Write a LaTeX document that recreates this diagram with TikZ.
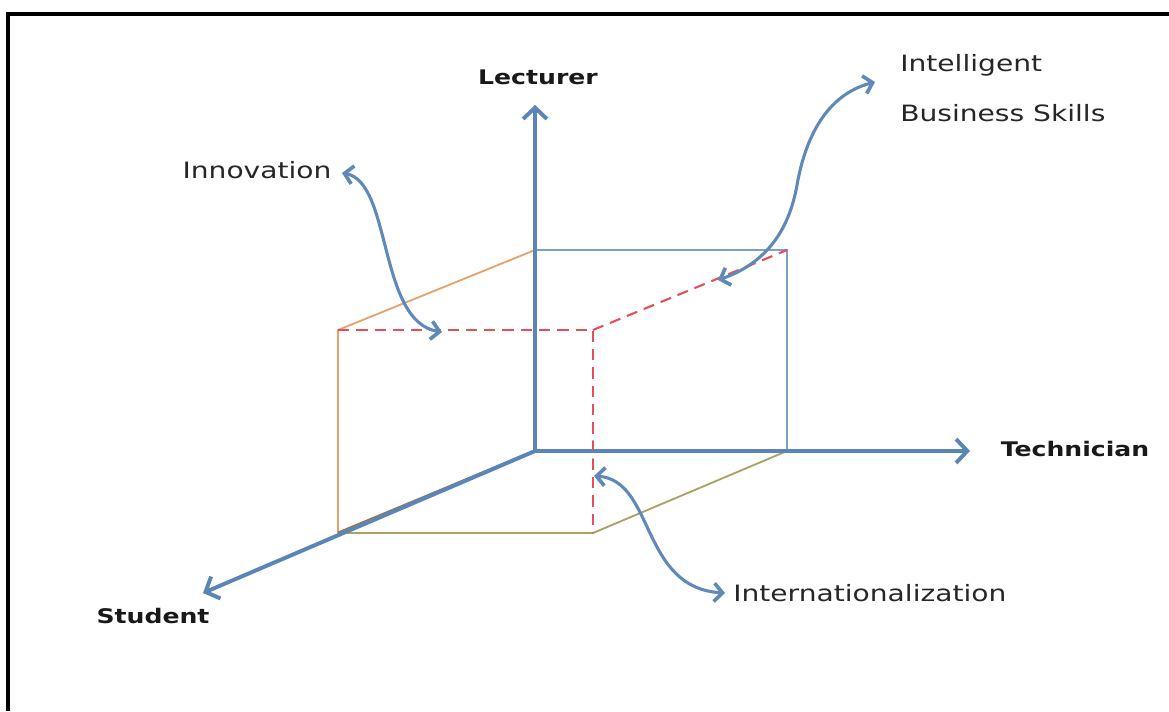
\documentclass[tikz,border=0pt]{standalone}
\usepackage{fontspec}
\newfontfamily\lblfont[FakeStretch=1.25]{DejaVu Sans}
\usetikzlibrary{arrows.meta}
\definecolor{axisblue}{HTML}{5A86B5}
\definecolor{backblue}{HTML}{7E9EC2}
\definecolor{edgeorange}{HTML}{E6A268}
\definecolor{edgeolive}{HTML}{AAA262}
\definecolor{dashred}{HTML}{E2505E}
\definecolor{curveblue}{HTML}{5F89B8}
\begin{document}
\begin{tikzpicture}[x=0.25mm,y=-0.25mm,
  axisline/.style={draw=axisblue,line width=3.4pt,-{Straight Barb[length=8pt,width=17pt,line width=2.8pt]}},
  backedge/.style={draw=backblue,line width=1.8pt},
  orangeedge/.style={draw=edgeorange,line width=1.3pt},
  oliveedge/.style={draw=edgeolive,line width=1.3pt},
  hidden/.style={draw=dashred,line width=1.5pt,dash pattern=on 8pt off 5pt},
  pointer/.style={draw=curveblue,line width=2.2pt,{Straight Barb[length=6pt,width=13pt,line width=2.6pt]}-{Straight Barb[length=6pt,width=13pt,line width=2.6pt]}},
  boldlbl/.style={font=\lblfont\bfseries\fontsize{14.3}{17}\selectfont,text=black!90,inner sep=0pt},
  normlbl/.style={font=\lblfont\fontsize{16}{19}\selectfont,text=black!85,inner sep=0pt}]
\useasboundingbox (0,0) rectangle (1169,711);
% frame
\draw[line width=2.2pt] (8,711) -- (8,14) -- (1169,14);
% cube corners
\coordinate (O) at (535,451);
\coordinate (B1) at (535,250);
\coordinate (B2) at (787,250);
\coordinate (B3) at (787,451);
\coordinate (F1) at (338,330);
\coordinate (F2) at (593,330);
\coordinate (F3) at (593,533);
\coordinate (F4) at (338,533);
% axis ends
\coordinate (up) at (535,105);
\coordinate (right) at (970,451);
\coordinate (down) at (203,593);
% cube edges
\draw[backedge] (B1) -- (B2) -- (B3);
\draw[orangeedge] (B1) -- (F1) -- (F4);
\draw[oliveedge] (F4) -- (F3) -- (B3);
\draw[draw=edgeorange!70!black,line width=2pt] (O) -- (F4);
\draw[hidden] (F1) -- (F2) -- (F3);
\draw[hidden] (F2) -- (B2);
% axes
\draw[axisline] (O) -- (up);
\draw[axisline] (O) -- (right);
\draw[axisline,line width=2.8pt] (O) -- (down);
\draw[hidden,draw opacity=0.6] (593,440) -- (593,462);
% labels
\node[boldlbl] (lect) at (538,77) {Lecturer};
\node[boldlbl] (tech) at (1075,449) {Technician};
\node[boldlbl] (stud) at (153,616) {Student};
\node[normlbl] (innov) at (257,170) {Innovation};
\node[normlbl,anchor=west] (ibs1) at (900,65) {Intelligent};
\node[normlbl,anchor=west] (ibs2) at (900,113) {Business Skills};
\node[normlbl,anchor=west] (intl) at (733,593) {Internationalization};
% pointer ends
\coordinate (innovA) at (342,173);
\coordinate (innovB) at (442,332);
\coordinate (ibsA) at (875,82);
\coordinate (ibsB) at (718,280);
\coordinate (intlA) at (594,476);
\coordinate (intlB) at (725,593);
% pointers
\draw[pointer] (innovA) .. controls (392,182) and (378,322) .. (innovB);
\draw[pointer] (ibsA) .. controls (825,95) and (805,140) .. (797,185) .. controls (790,225) and (770,262) .. (ibsB);
\draw[pointer] (intlA) .. controls (655,480) and (640,588) .. (intlB);
\end{tikzpicture}
\end{document}
